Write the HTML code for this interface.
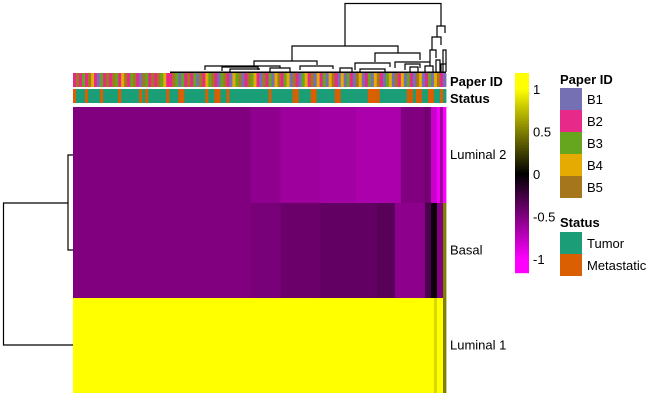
<!DOCTYPE html>
<html><head><meta charset="utf-8"><style>
html,body{margin:0;padding:0;background:#fff}
svg{display:block;font-family:"Liberation Sans",sans-serif}
</style></head><body>
<svg id="c" width="650" height="400" viewBox="0 0 650 400" xmlns="http://www.w3.org/2000/svg">
<g id="dendTop" fill="none" stroke="#000" stroke-width="1.2">
<path d="M345,46V3.5H441V26 M292,61V46H398V53 M254,66V61H317V65 M375,62V53H420V60 M437,37V26H445V33 M432,50V37H441V45 M430,62V50H436V58 M205,70V66H280V68 M222,71V67H258V70 M395,68V62H430V66 M355,70V63H390V67 M300,70V66H333V69 M405,70V64H420V68"/>
<path d="M170,72.5H446" stroke-width="2"/>
<path d="M230,72V69H260 M270,72V68H290V72 M340,72V68H352V72 M360,72V69H385V72 M410,72V67H418V72 M425,72V66H433V72 M436,72V60H440V72 M441,72V64H446V72 M443,72V50H446V70"/>
</g>
<g id="dendLeft" fill="none" stroke="#000" stroke-width="1.2">
<path d="M73,155H68V250H73 M68,203H3.5V345H73"/>
</g>
<g id="ann"></g>
<g id="heat"></g>
<g id="rowlabels" font-size="13" fill="#000">
<text x="450" y="86" font-weight="bold">Paper ID</text>
<text x="450" y="103" font-weight="bold">Status</text>
</g>
<g id="cbar"></g>
<g id="legend" font-size="13" fill="#000">
<text x="560" y="84" font-weight="bold">Paper ID</text>
<text x="560" y="227" font-weight="bold">Status</text>
</g>
</svg>
<script>
const rowNames = ["Luminal 2","Basal","Luminal 1"];
const lum2Runs = [[59,-0.5],[10,-0.56],[13,-0.62],[12,-0.64],[15,-0.67],[8,-0.5],[2,-0.45],[2,-0.8],[1,-0.95],[1,-0.6],[1,-1.0]];
const basalRuns = [[59,-0.5],[10,-0.47],[13,-0.42],[19,-0.39],[6,-0.35],[10,-0.55],[2,-0.3],[2,-0.05],[2,-0.5],[1,0.5]];
const lum1Runs = [[120,1],[1,0.85],[2,1],[1,0.5]];
const paperIds = "2523254213"+"2525324523"+"5215325253"+"4225313252"+"3152435213"+"5214351253"+"4215231452"+"3415213425"+"1423145214"+"1321541231"+"4521341524"+"1321541231"+"4521";
const metastaticIdx = [0,4,9,15,22,24,31,35,36,44,47,48,51,65,73,74,79,80,87,88,98,99,100,101,111,112,114,115,118,119,122];
const cbarTicks = [1,0.5,0,-0.5,-1];
const paperLevels = ["B1","B2","B3","B4","B5"];
const paperColors = ["#7570B3","#E7298A","#66A61E","#E6AB02","#A6761D"];
const statusLevels = ["Tumor","Metastatic"];
const statusColors = ["#1B9E77","#D95F02"];

const NS="http://www.w3.org/2000/svg";
function mk(tag,attrs,parent){const e=document.createElementNS(NS,tag);for(const k in attrs)e.setAttribute(k,attrs[k]);parent.appendChild(e);return e;}
function expand(r){const o=[];r.forEach(([n,v])=>{for(let i=0;i<n;i++)o.push(v);});return o;}
const rows=[expand(lum2Runs),expand(basalRuns),expand(lum1Runs)];
const N=rows[0].length;
const X0=73,X1=446,cw=(X1-X0)/N;
const xs=i=>X0+i*cw;
const rowTop=[107,203,298], rowBot=[203,298,393];
function col(v){v=Math.max(-1,Math.min(1,v));const t=Math.round(Math.abs(v)*255);return v<0?`rgb(${t},0,${t})`:`rgb(${t},${t},0)`;}

const heat=document.getElementById('heat');
rows.forEach((vals,r)=>{
  vals.forEach((v,i)=>{
    const e=mk('rect',{x:xs(i),y:rowTop[r],width:cw+0.4,height:rowBot[r]-rowTop[r],fill:col(v)},heat);
    
    
  });
  const t=mk('text',{x:450,y:(rowTop[r]+rowBot[r])/2+4,'font-size':13},document.getElementById('rowlabels'));
  t.textContent=rowNames[r];
  
  
});

const ann=document.getElementById('ann');
for(let i=0;i<N;i++){
  const p=parseInt(paperIds[i]||"1")-1;
  const a=mk('rect',{x:xs(i),y:73,width:cw+0.4,height:14,fill:paperColors[p]},ann);
  
  
  const s=metastaticIdx.includes(i)?1:0;
  const b=mk('rect',{x:xs(i),y:89,width:cw+0.4,height:14,fill:statusColors[s]},ann);
  
  
}

const cb=document.getElementById('cbar');
const cy=v=>174-v*85;
for(let y=73;y<272;y+=2){
  const v=(174-y-1)/85;
  const e=mk('rect',{x:515,y:y,width:14,height:2.2,fill:col(v)},cb);
  
  
}
cbarTicks.forEach(t=>{
  const e=mk('text',{x:533,y:cy(t)+5,'font-size':13},cb);
  e.textContent=String(t);
  
  
});

const lg=document.getElementById('legend');
paperLevels.forEach((l,i)=>{
  const r=mk('rect',{x:560,y:88+i*22,width:22,height:22,fill:paperColors[i]},lg);
  
  
  const t=mk('text',{x:587,y:88+i*22+16},lg);t.textContent=l;
  
  
});
statusLevels.forEach((l,i)=>{
  const r=mk('rect',{x:560,y:232+i*22,width:22,height:22,fill:statusColors[i]},lg);
  
  
  const t=mk('text',{x:587,y:232+i*22+16},lg);t.textContent=l;
  
  
});
</script>
</body></html>
